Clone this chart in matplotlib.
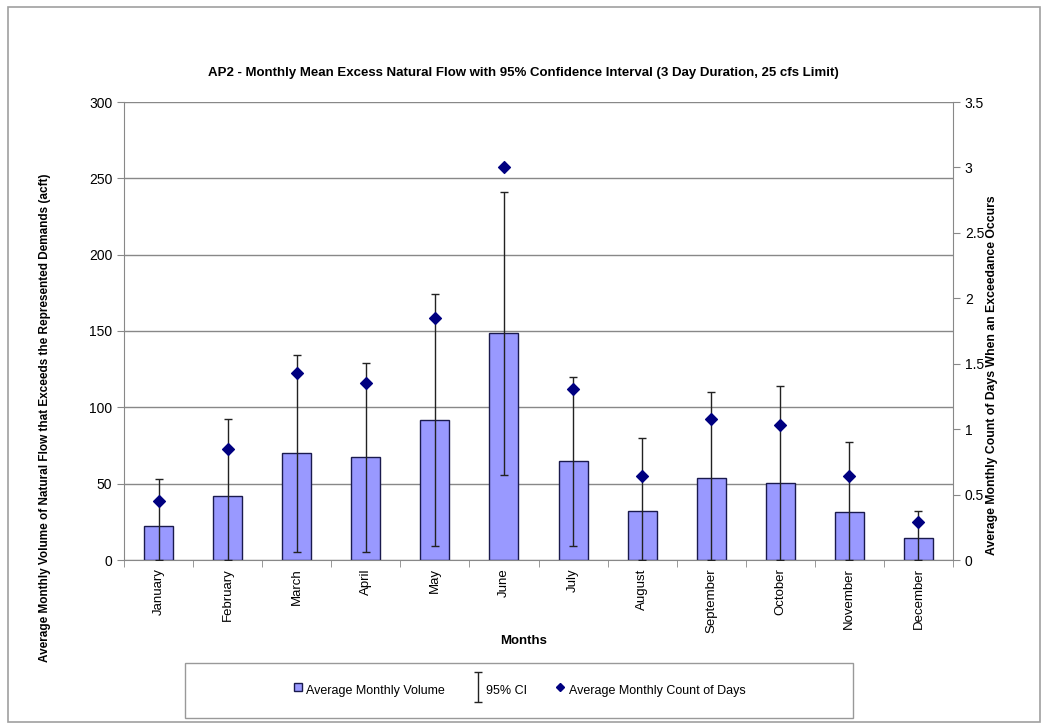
import matplotlib.pyplot as plt
from matplotlib.patches import Rectangle
from matplotlib.lines import Line2D
from matplotlib.container import ErrorbarContainer
from matplotlib.legend_handler import HandlerErrorbar
import numpy as np

months = ["January", "February", "March", "April", "May", "June", "July",
          "August", "September", "October", "November", "December"]
avg_volume = [22.3, 41.9, 69.9, 67.2, 91.7, 148.5, 64.8, 32.1, 53.5, 50.2, 31.6, 14.6]
ci_upper = [52.8, 92.3, 134.5, 128.8, 174.4, 240.8, 120.1, 80.1, 110.3, 114.0, 77.1, 32.1]
ci_lower = [0, 0, 5.0, 5.0, 9.4, 55.7, 9.4, 0, 0, 0, 0, 0]
avg_days = [0.45, 0.85, 1.43, 1.35, 1.85, 3.0, 1.31, 0.64, 1.08, 1.03, 0.64, 0.29]

plt.rcParams['font.family'] = ['Liberation Sans', 'DejaVu Sans']

fig = plt.figure(figsize=(10.47, 7.23), dpi=100)
ax = fig.add_axes([124/1047, 1 - 560/723, 829/1047, 458/723])

# Outer chart border and legend box
fig.patches.append(Rectangle((8/1047, 1/723), 1032/1047, 715/723, transform=fig.transFigure,
                             fill=False, edgecolor="#a0a0a0", linewidth=1.2))
fig.patches.append(Rectangle((185/1047, 1 - 718/723), 668/1047, 55/723, transform=fig.transFigure,
                             fill=False, edgecolor="#999999", linewidth=1.0))

x = np.arange(len(months))
vol = np.array(avg_volume)
yerr = [vol - np.array(ci_lower), np.array(ci_upper) - vol]

bars = ax.bar(x, avg_volume, width=0.42, color="#9999ff", edgecolor="#1a1a4d",
              linewidth=1.0, zorder=2)
eb = ax.errorbar(x, avg_volume, yerr=yerr, fmt="none", ecolor="#222222",
                 elinewidth=1.0, capsize=3, capthick=1.0, zorder=3)

ax.set_xlim(-0.5, 11.5)
ax.set_ylim(0, 300)
ax.set_yticks(range(0, 301, 50))
ax.yaxis.grid(True, color="#888888", linewidth=1.0, zorder=0)
ax.set_axisbelow(True)

ax.set_xticks(x)
ax.set_xticklabels(months, rotation=90, fontsize=9.5)
ax.set_xticks(np.arange(-0.5, 12, 1), minor=True)
ax.tick_params(axis="x", which="major", length=0, pad=6)
ax.tick_params(axis="x", which="minor", length=5, color="#888888", direction="out")
ax.tick_params(axis="y", labelsize=10, length=5, color="#888888")

for side in ["top", "right"]:
    ax.spines[side].set_visible(False)
ax.spines["left"].set_color("#888888")
ax.spines["bottom"].set_color("#888888")

ax2 = ax.twinx()
sc = ax2.scatter(x, avg_days, marker="D", s=36, color="#000080", zorder=4)
ax2.set_ylim(0, 3.5)
ax2.set_yticks([0, 0.5, 1, 1.5, 2, 2.5, 3, 3.5])
ax2.set_yticklabels(["0", "0.5", "1", "1.5", "2", "2.5", "3", "3.5"])
ax2.tick_params(axis="y", labelsize=10, length=5, color="#888888")
for side in ["top", "left", "bottom"]:
    ax2.spines[side].set_visible(False)
ax2.spines["right"].set_color("#888888")

fig.text(0.5, 1 - 73/723,
         "AP2 - Monthly Mean Excess Natural Flow with 95% Confidence Interval (3 Day Duration, 25 cfs Limit)",
         ha="center", va="center", fontsize=9.5, fontweight="bold")
fig.text(0.5, 1 - 641/723, "Months", ha="center", va="center", fontsize=9.5, fontweight="bold")
fig.text(45/1047, 1 - 418/723,
         "Average Monthly Volume of Natural Flow that Exceeds the Represented Demands (acft)",
         rotation=90, ha="center", va="center", fontsize=8.5, fontweight="bold")
fig.text(992/1047, 1 - 375/723,
         "Average Monthly Count of Days When an Exceedance Occurs",
         rotation=90, ha="center", va="center", fontsize=8.8, fontweight="bold")

# Legend
vol_handle = Line2D([], [], marker="s", markersize=6, markerfacecolor="#9999ff",
                    markeredgecolor="#1a1a4d", linestyle="none")
day_handle = Line2D([], [], marker="D", markersize=4, color="#000080", linestyle="none")
leg = fig.legend([vol_handle, eb, day_handle],
                 ["Average Monthly Volume", "95% CI", "Average Monthly Count of Days"],
                 loc="center", ncol=3, fontsize=9, frameon=False,
                 bbox_to_anchor=(185/1047, 1 - 718/723, 668/1047, 55/723),
                 handlelength=0.8, handleheight=2.5, columnspacing=2.2, handletextpad=0.3,
                 handler_map={ErrorbarContainer: HandlerErrorbar(yerr_size=1.2)})

fig.savefig("out.png", dpi=100)
